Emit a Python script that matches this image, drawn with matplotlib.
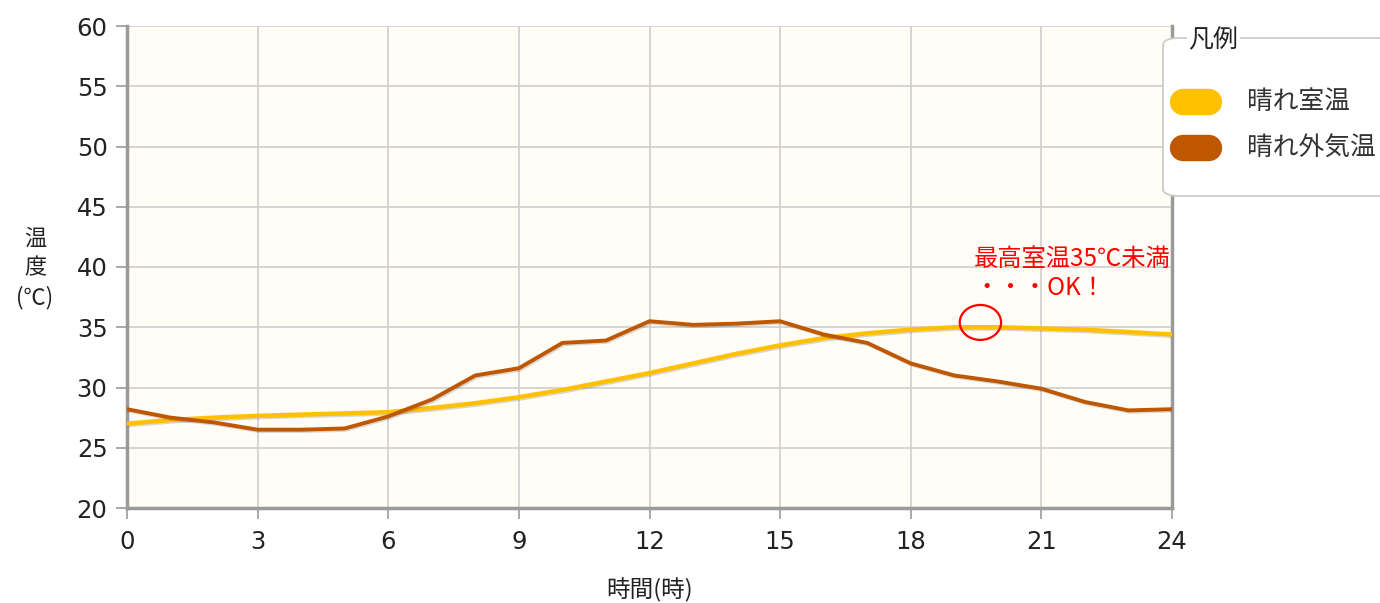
import numpy as np
import matplotlib.pyplot as plt
import matplotlib.patheffects as pe
from matplotlib.patches import Ellipse, FancyBboxPatch
from matplotlib.lines import Line2D

plt.rcParams['font.family'] = ['Noto Sans CJK JP', 'DejaVu Sans']

hours = list(range(25))
room = [27.0, 27.3, 27.5, 27.65, 27.75, 27.85, 27.95, 28.3, 28.7, 29.2, 29.8, 30.5,
        31.2, 32.0, 32.8, 33.5, 34.1, 34.5, 34.8, 35.0, 35.0, 34.9, 34.8, 34.6, 34.4]
outside = [28.2, 27.5, 27.1, 26.5, 26.5, 26.6, 27.6, 29.0, 31.0, 31.6, 33.7, 33.9,
           35.5, 35.2, 35.3, 35.5, 34.4, 33.7, 32.0, 31.0, 30.5, 29.9, 28.8, 28.1, 28.2]
series_names = ['晴れ室温', '晴れ外気温']
colors = ['#FFC000', '#BF5700']
xticks = list(range(0, 25, 3))
yticks = list(range(20, 61, 5))

fig = plt.figure(figsize=(13.8, 6.03), dpi=100)
ax = fig.add_axes([127 / 1380, 95 / 603, 1045 / 1380, 482 / 603])
ax.set_facecolor('#FFFDF6')

shadow = [pe.SimpleLineShadow(offset=(1, -1), alpha=0.15), pe.Normal()]
ax.plot(hours, room, color=colors[0], lw=3.2, path_effects=shadow, zorder=3)
ax.plot(hours, outside, color=colors[1], lw=2.8, path_effects=shadow, zorder=4)

ax.set_xlim(0, 24)
ax.set_ylim(20, 60)
ax.set_xticks(xticks)
ax.set_yticks(yticks)
ax.grid(True, color='#CFCFCF', lw=1.2)
ax.set_axisbelow(True)
tick_font = dict(family=['DejaVu Sans'], size=17.5)
ax.set_xticklabels([str(t) for t in xticks], **tick_font)
ax.set_yticklabels([str(t) for t in yticks], **tick_font)
ax.tick_params(colors='#999999', labelcolor='#222222', length=8, width=1.2)
ax.tick_params(axis='x', pad=8)
ax.tick_params(axis='y', pad=6)
for s in ['left', 'bottom', 'right']:
    ax.spines[s].set_color('#9A9A9A')
    ax.spines[s].set_linewidth(2.5)
ax.spines['top'].set_visible(False)

fig.text(650 / 1380, 1 - 590 / 603, '時間(時)', fontsize=17, ha='center', va='center',
         color='#222222')
fig.text(35 / 1380, 1 - 268 / 603, '温\n度\n(℃)', ha='center', va='center',
         fontsize=16, color='#222222', linespacing=1.35)

# annotation
ax.add_patch(Ellipse((19.6, 35.4), 0.95, 2.9, fill=False, ec='red', lw=1.6, zorder=6))
ax.text(19.45, 40.65, '最高室温35℃未満', color='red', fontsize=17.5, ha='left', va='center')
ax.text(19.45, 38.3, '・・・OK！', color='red', fontsize=17.5, ha='left', va='center')

# legend
box = FancyBboxPatch((1163 / 1380, 1 - 196 / 603), 0.2, 158 / 603,
                     boxstyle='round,pad=0,rounding_size=0.012',
                     transform=fig.transFigure, fc='white', ec='#CCCCCC', lw=1.3,
                     clip_on=False)
fig.add_artist(box)
fig.text(1213 / 1380, 1 - 40 / 603, '凡例', fontsize=18, ha='center', va='center',
         color='#222222', bbox=dict(fc='white', ec='none', pad=1))
for i, name in enumerate(series_names):
    yc = 1 - (102 + 46 * i) / 603
    fig.add_artist(Line2D([1183 / 1380, 1209 / 1380], [yc, yc], color=colors[i],
                          lw=19, solid_capstyle='round', transform=fig.transFigure))
    fig.text(1247 / 1380, yc, name, fontsize=18.5, va='center', color='#333333')

fig.savefig('out.png', dpi=100)
